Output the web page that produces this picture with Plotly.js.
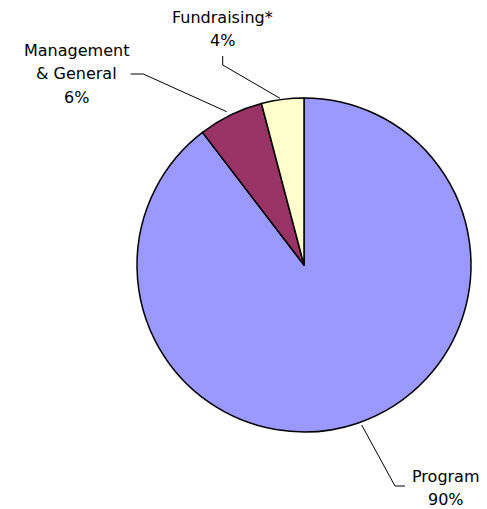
<!DOCTYPE html>
<html>
<head>
<meta charset="utf-8">
<script src="https://cdn.plot.ly/plotly-3.0.1.min.js"></script>
<style>html,body{margin:0;padding:0;background:#fff;}#chart{width:487px;height:509px;}</style>
</head>
<body>
<div id="chart"></div>
<script>
const categories = ["Program", "Management & General", "Fundraising*"];
const labelLines = [["Program"], ["Management", "& General"], ["Fundraising*"]];
const values = [89.6, 6.3, 4.1];
const colors = ["#9999FF", "#993366", "#FFFFCC"];

const W = 487, H = 509;
const px = x => x / W;
const py = y => 1 - y / H;

// label anchor (text centre x, first-line centre y) and leader paths in pixels
const labelPos = [[445.5, 476], [76, 50], [222.7, 17]];
const lineGap = 23.5;
const leaders = [
  [[361.7, 425], [395, 486], [405, 486]],
  [[130.7, 74], [143.3, 74], [226.7, 111.7]],
  [[222.7, 56], [222.7, 65], [280, 98.3]]
];

const total = values.reduce((a, b) => a + b, 0);
const annotations = [];
categories.forEach((c, i) => {
  const lines = labelLines[i].concat([Math.round(values[i] / total * 100) + "%"]);
  lines.forEach((t, k) => {
    annotations.push({
      text: t, showarrow: false, xref: "paper", yref: "paper",
      x: px(labelPos[i][0]), y: py(labelPos[i][1] + k * lineGap),
      xanchor: "center", yanchor: "middle",
      font: {family: "DejaVu Sans, Verdana, sans-serif", size: 16, color: "#000"}
    });
  });
});

const shapes = leaders.map(pts => ({
  type: "path", xref: "paper", yref: "paper",
  path: pts.map((p, k) => (k ? "L" : "M") + px(p[0]) + "," + py(p[1])).join(" "),
  line: {color: "#000", width: 1}
}));

const data = [{
  type: "pie",
  labels: categories,
  values: values,
  sort: false,
  direction: "clockwise",
  rotation: 0,
  textinfo: "none",
  hoverinfo: "skip",
  marker: {colors: colors, line: {color: "#000", width: 1.5}},
  domain: {x: [px(137), px(471)], y: [py(432), py(98)]},
  showlegend: false
}];

const layout = {
  width: W, height: H,
  margin: {l: 0, r: 0, t: 0, b: 0},
  paper_bgcolor: "#fff",
  showlegend: false,
  annotations: annotations,
  shapes: shapes
};

Plotly.newPlot("chart", data, layout, {staticPlot: true});
</script>
</body>
</html>
